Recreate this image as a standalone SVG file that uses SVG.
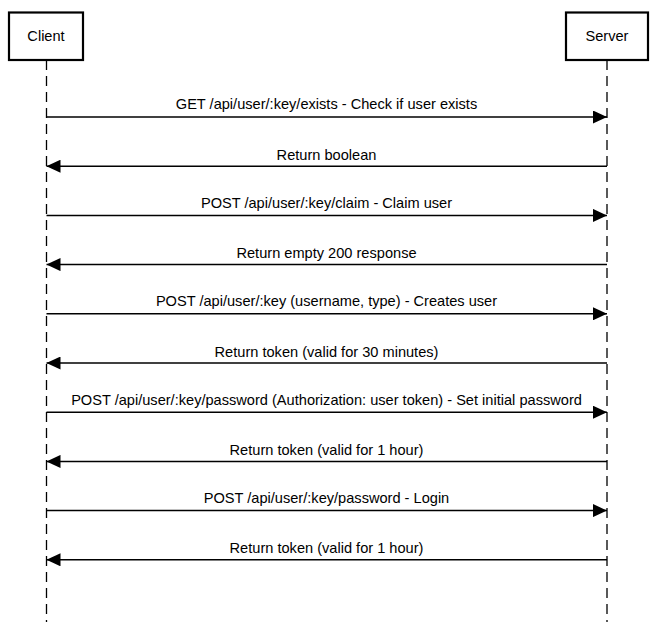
<svg xmlns="http://www.w3.org/2000/svg" width="656" height="622" viewBox="0 0 656 622">
<style>
.actor{fill:#fff;stroke:#000;stroke-width:2.2}
.life{stroke:#000;stroke-width:1.3;stroke-dasharray:10 6;fill:none}
.msg{stroke:#000;stroke-width:1.5;fill:none}
text{font-family:"Liberation Sans",Arial,sans-serif;font-size:14.6px;fill:#000;text-anchor:middle}
</style>
<defs>
<marker id="ah" markerWidth="14" markerHeight="13" refX="14" refY="6.5" orient="auto" markerUnits="userSpaceOnUse">
<path d="M0,0 L14,6.5 L0,13 Z" fill="#000"/>
</marker>
</defs>
<g id="lifelines">
<line class="life" x1="46.5" y1="60" x2="46.5" y2="622"/>
<line class="life" x1="607" y1="60" x2="607" y2="622"/>
</g>
<g id="client">
<rect class="actor" x="9" y="12.5" width="74" height="47.5"/>
<text x="46" y="41">Client</text>
</g>
<g id="server">
<rect class="actor" x="566" y="12.5" width="82" height="47.5"/>
<text x="607" y="41">Server</text>
</g>
<g id="connectors">
<line class="msg" x1="46.5" y1="117" x2="607" y2="117" marker-end="url(#ah)"/>
<line class="msg" x1="607" y1="166.2" x2="46.5" y2="166.2" marker-end="url(#ah)"/>
<line class="msg" x1="46.5" y1="215.4" x2="607" y2="215.4" marker-end="url(#ah)"/>
<line class="msg" x1="607" y1="264.6" x2="46.5" y2="264.6" marker-end="url(#ah)"/>
<line class="msg" x1="46.5" y1="313.8" x2="607" y2="313.8" marker-end="url(#ah)"/>
<line class="msg" x1="607" y1="363" x2="46.5" y2="363" marker-end="url(#ah)"/>
<line class="msg" x1="46.5" y1="412.2" x2="607" y2="412.2" marker-end="url(#ah)"/>
<line class="msg" x1="607" y1="461.4" x2="46.5" y2="461.4" marker-end="url(#ah)"/>
<line class="msg" x1="46.5" y1="510.6" x2="607" y2="510.6" marker-end="url(#ah)"/>
<line class="msg" x1="607" y1="559.8" x2="46.5" y2="559.8" marker-end="url(#ah)"/>
</g>
<g id="labels">
<text x="326.5" y="109">GET /api/user/:key/exists - Check if user exists</text>
<text x="326.5" y="160">Return boolean</text>
<text x="326.5" y="208">POST /api/user/:key/claim - Claim user</text>
<text x="326.5" y="258">Return empty 200 response</text>
<text x="326.5" y="306">POST /api/user/:key (username, type) - Creates user</text>
<text x="326.5" y="357">Return token (valid for 30 minutes)</text>
<text x="326.5" y="405">POST /api/user/:key/password (Authorization: user token) - Set initial password</text>
<text x="326.5" y="455">Return token (valid for 1 hour)</text>
<text x="326.5" y="503">POST /api/user/:key/password - Login</text>
<text x="326.5" y="553">Return token (valid for 1 hour)</text>
</g>
</svg>
